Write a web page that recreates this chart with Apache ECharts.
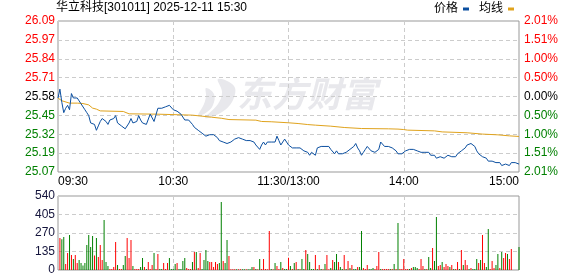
<!DOCTYPE html>
<html><head><meta charset="utf-8">
<script src="https://cdn.jsdelivr.net/npm/echarts@6/dist/echarts.min.js"></script>
<style>html,body{margin:0;padding:0;background:#fff}#c{width:578px;height:276px}</style>
</head><body><div id="c"></div>
<script>
const FONT = '"Liberation Sans", Arial, "Noto Sans CJK SC", sans-serif';
const titleText = '华立科技[301011] 2025-12-11 15:30';
const seriesNames = ['价格', '均线'];
const watermarkText = '东方财富';

// y-axis tick labels (bottom -> top)
const priceTickLabels = ['25.07','25.19','25.32','25.45','25.58','25.71','25.84','25.97','26.09'];
const pctTickLabels = ['2.01%','1.51%','1.00%','0.50%','0.00%','0.50%','1.00%','1.51%','2.01%'];
const volTickLabels = ['0','135','270','405','540'];
const timeTickIdx = [0, 60, 120, 180, 240];
const timeTickText = ['09:30', '10:30', '11:30/13:00', '14:00', '15:00'];

// minute categories 09:30-11:30, 13:01-15:00
const categories = [];
for (let m = 9 * 60 + 30; m <= 11 * 60 + 30; m++) categories.push(String(Math.floor(m / 60)).padStart(2, '0') + ':' + String(m % 60).padStart(2, '0'));
for (let m = 13 * 60 + 1; m <= 15 * 60; m++) categories.push(String(Math.floor(m / 60)).padStart(2, '0') + ':' + String(m % 60).padStart(2, '0'));

const price = [
25.57,25.63,25.54,25.47,25.50,25.52,25.49,25.60,25.57,25.57,
25.57,25.55,25.53,25.52,25.49,25.47,25.45,25.40,25.39,25.39,
25.35,25.38,25.41,25.43,25.43,25.41,25.39,25.42,25.41,25.43,
25.45,25.40,25.39,25.38,25.37,25.36,25.37,25.40,25.43,25.40,
25.39,25.41,25.45,25.42,25.40,25.40,25.39,25.40,25.46,25.46,
25.41,25.41,25.50,25.50,25.50,25.51,25.51,25.51,25.52,25.51,
25.49,25.50,25.48,25.47,25.46,25.45,25.42,25.43,25.42,25.41,
25.39,25.37,25.37,25.35,25.34,25.33,25.32,25.31,25.31,25.32,
25.32,25.32,25.32,25.30,25.28,25.28,25.27,25.26,25.26,25.27,
25.27,25.28,25.29,25.30,25.30,25.31,25.29,25.28,25.28,25.28,
25.28,25.28,25.27,25.25,25.24,25.22,25.25,25.27,25.25,25.27,
25.26,25.27,25.28,25.27,25.31,25.28,25.25,25.27,25.29,25.28,
25.25,
25.24,25.23,25.24,25.23,25.23,25.23,25.22,25.21,25.21,
25.20,25.18,25.20,25.19,25.18,25.23,25.24,25.24,25.23,25.24,
25.23,25.24,25.22,25.21,25.19,25.21,25.19,25.20,25.19,25.19,
25.20,25.21,25.22,25.22,25.24,25.26,25.23,25.21,25.18,25.20,
25.22,25.24,25.24,25.21,25.20,25.20,25.20,25.22,25.27,25.26,
25.24,25.23,25.24,25.24,25.23,25.22,25.21,25.19,25.18,25.19,
25.19,25.21,25.22,25.22,25.22,25.22,25.23,25.21,25.20,25.20,
25.21,25.20,25.21,25.20,25.18,25.18,25.18,25.16,25.16,25.17,
25.16,25.16,25.17,25.18,25.18,25.17,25.17,25.17,25.19,25.19,
25.21,25.20,25.23,25.25,25.26,25.26,25.26,25.24,25.21,25.19,
25.18,25.17,25.17,25.16,25.14,25.14,25.14,25.14,25.13,25.12,
25.13,25.11,25.12,25.12,25.11,25.11,25.13,25.13,25.13,25.12,
25.12
];

// average price line, read at points (minute index, value)
const avgIdx = [0,2,3,6,10,13,16,17,18,20,22,34,35,37,51,52,62,70,75,80,85,89,103,106,111,120,125,130,134,142,149,158,172,177,180,182,196,200,213,221,229,235,240];
const avgVal = [25.569,25.551,25.539,25.535,25.535,25.532,25.523,25.512,25.501,25.494,25.482,25.478,25.469,25.462,25.460,25.456,25.456,25.453,25.446,25.439,25.432,25.423,25.419,25.410,25.408,25.401,25.396,25.389,25.385,25.378,25.369,25.362,25.360,25.358,25.355,25.351,25.346,25.339,25.333,25.324,25.319,25.312,25.308];

const volume = [
0,233,224,241,44,124,255,109,80,109,
51,73,51,32,51,182,255,168,248,105,
233,95,182,73,365,58,29,7,7,22,
204,36,7,7,36,102,233,88,219,29,
7,7,7,22,88,22,7,58,7,36,
124,7,117,7,7,51,7,51,88,7,
7,44,51,7,7,66,88,15,7,7,
58,131,131,15,124,7,73,146,66,58,
58,22,58,44,51,496,66,51,219,102,
5,5,5,5,5,5,5,5,5,5,
5,22,22,7,5,80,7,80,7,5,
285,7,5,51,29,7,58,15,7,7,
90,
29,7,51,58,7,7,80,7,146,
117,58,7,7,109,7,36,7,5,44,
109,5,15,73,58,117,58,22,7,109,
7,66,15,36,7,7,22,22,285,15,
7,36,7,7,15,7,29,131,7,7,
7,7,7,7,7,44,7,343,7,7,
80,7,7,7,15,22,22,15,7,80,
29,7,7,95,15,160,66,387,29,36,
58,22,44,29,22,36,7,7,58,7,
146,36,73,36,7,15,7,7,80,51,
73,255,51,22,299,7,66,15,36,117,
15,131,88,124,117,80,153,0,0,0,
168
];
// r = up minute (red bar), g = down minute (green bar)
const volDir = ('rrggrrgrgr'+'rggggggggr'+'grrrgggrrr'+'rgrrggrrrg'+'rrrggrgrrr'+'grrggrrrgg'+'ggrggggrrr'+'grgrrggggr'+'rrrrggrggr'+'rrrgrrggrg'+'ggrgrgrrrr'+'rgrgrrgrgg'+'r'+
  'grgrgrggr'+'ggggrgrgrg'+'rrgrggrggr'+'grgrggrggr'+'rrgggrrrgr'+'rrrgrgrgrr'+'rrrgrgggrr'+'rgrggrggrr'+'grrrgrgrrg'+'rgrrgrgggr'+'grrggrrrgg'+'rgrrgrrrrr'+'g').split('');

const PMIN = 25.066, PMAX = 26.094, PINT = 0.1285;
const QMIN = -2.01, QMAX = 2.01, QINT = 0.5025;
const RED = '#ff0000', GREEN = '#008000', MID = '#000000';
const gridLine = { show: true, lineStyle: { color: '#cccccc', type: [4, 3], width: 1 } };
const splitIdx = (i) => i === 60 || i === 120 || i === 180;
const tickColor = (i) => i > 4 ? RED : (i < 4 ? GREEN : MID);
const pIdx = (v) => Math.round((Number(v) - PMIN) / PINT);
const qIdx = (v) => Math.round((Number(v) - QMIN) / QINT);

const chart = echarts.init(document.getElementById('c'), null, { renderer: 'canvas' });
chart.setOption({
  animation: false,
  backgroundColor: '#ffffff',
  textStyle: { fontFamily: FONT, fontSize: 12 },
  title: { text: titleText, left: 56, top: 2, padding: 0,
    textStyle: { fontSize: 12, fontWeight: 'normal', color: '#000', fontFamily: FONT } },
  legend: {
    data: [{ name: seriesNames[0], icon: 'rect' }, { name: seriesNames[1], icon: 'rect' }],
    right: 64, top: 3, padding: 0, align: 'right', itemWidth: 6, itemHeight: 3, itemGap: 10,
    textStyle: { fontSize: 12, color: '#000', fontFamily: FONT }
  },
  graphic: [
    { type: 'text', left: 237, top: 76, z: 0, silent: true,
      style: { text: watermarkText, font: 'italic bold 35px "Noto Sans CJK SC"', fill: '#e8e8ec' } },
    { type: 'polygon', z: 0, silent: true,
      shape: { points: [[218,79],[234,86],[233,100],[222,112],[205,118],[218,104],[222,92]], smooth: 0.4 },
      style: { fill: '#e8e8ec' } },
    { type: 'polygon', z: 0, silent: true,
      shape: { points: [[206,88],[214,94],[213,105],[207,112],[198,116],[204,104],[206,96]], smooth: 0.4 },
      style: { fill: '#e8e8ec' } }
  ],
  grid: [
    { left: 58, top: 21, width: 461, height: 151, show: true, borderColor: '#999', borderWidth: 1, backgroundColor: 'transparent' },
    { left: 58, top: 196, width: 461, height: 74, show: true, borderColor: '#999', borderWidth: 1, backgroundColor: 'transparent' }
  ],
  xAxis: [
    { type: 'category', gridIndex: 0, data: categories, boundaryGap: false,
      axisLine: { show: false }, axisTick: { show: false },
      axisLabel: { interval: (i) => timeTickIdx.includes(i), margin: 4, color: '#000', fontSize: 12, fontFamily: FONT,
        alignMinLabel: 'left', alignMaxLabel: 'right',
        formatter: (v, i) => { const k = timeTickIdx.indexOf(i); return k >= 0 ? timeTickText[k] : ''; } },
      splitLine: Object.assign({ interval: splitIdx }, gridLine) },
    { type: 'category', gridIndex: 1, data: categories, boundaryGap: false,
      axisLine: { show: false }, axisTick: { show: false }, axisLabel: { show: false },
      splitLine: Object.assign({ interval: splitIdx }, gridLine) }
  ],
  yAxis: [
    { type: 'value', gridIndex: 0, position: 'left', min: PMIN, max: PMAX, interval: PINT,
      axisLine: { show: false }, axisTick: { show: false }, splitLine: gridLine,
      axisLabel: { margin: 3, fontSize: 12, fontFamily: FONT,
        formatter: (v) => priceTickLabels[pIdx(v)],
        color: (v) => tickColor(pIdx(v)) } },
    { type: 'value', gridIndex: 0, position: 'right', min: QMIN, max: QMAX, interval: QINT,
      axisLine: { show: false }, axisTick: { show: false }, splitLine: { show: false },
      axisLabel: { margin: 5, fontSize: 12, fontFamily: FONT,
        formatter: (v) => pctTickLabels[qIdx(v)],
        color: (v) => tickColor(qIdx(v)) } },
    { type: 'value', gridIndex: 1, position: 'left', min: 0, max: 540, interval: 135,
      axisLine: { show: false }, axisTick: { show: false }, splitLine: gridLine,
      axisLabel: { margin: 3, fontSize: 12, fontFamily: FONT, color: '#14143c',
        formatter: (v) => volTickLabels[Math.round(Number(v) / 135)] } }
  ],
  series: [
    { name: seriesNames[0], type: 'line', xAxisIndex: 0, yAxisIndex: 0, data: price,
      showSymbol: false, symbol: 'none', color: '#0b4fa0', lineStyle: { width: 1, color: '#0b4fa0' }, z: 4 },
    { name: seriesNames[1], type: 'line', xAxisIndex: 0, yAxisIndex: 0,
      data: avgIdx.map((k, j) => [k, avgVal[j]]),
      showSymbol: false, symbol: 'none', color: '#e0a31d', lineStyle: { width: 1, color: '#e0a31d' }, z: 3 },
    { name: 'vol', type: 'bar', xAxisIndex: 1, yAxisIndex: 2, data: volume, barWidth: 1,
      itemStyle: { color: (p) => volDir[p.dataIndex] === 'r' ? RED : GREEN } }
  ]
});
</script></body></html>
